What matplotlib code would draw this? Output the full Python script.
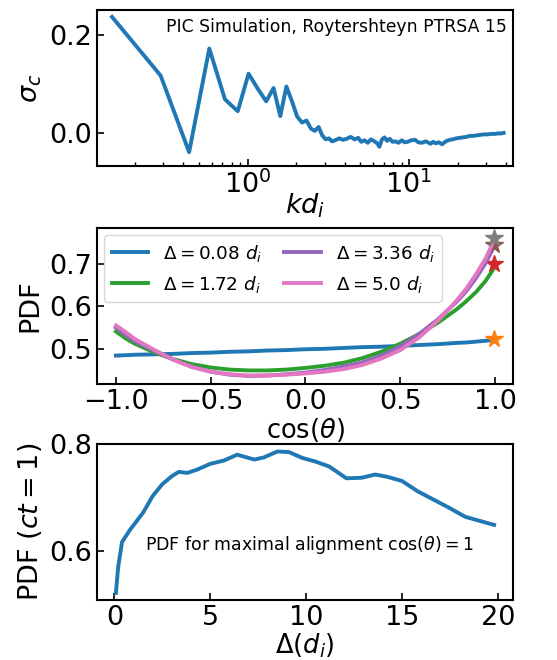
import matplotlib
matplotlib.use("Agg")
import matplotlib.pyplot as plt

# ---------------- data ----------------
# Panel 1: cross helicity sigma_c vs k d_i
kd = [0.145, 0.29, 0.435, 0.58, 0.725, 0.87, 1.015, 1.16, 1.305, 1.45, 1.595,
      1.74, 1.885, 2.03, 2.175, 2.32, 2.465, 2.61, 2.755, 2.9, 3.045, 3.19,
      3.335, 3.48, 3.7, 3.9, 4.1, 4.35, 4.6, 4.85, 5.05, 5.3, 5.55, 5.8, 6.1,
      6.35, 6.55, 6.8, 7.05, 7.3, 7.6, 7.9, 8.2, 8.6, 9.0, 9.4, 9.8, 10.3,
      10.9, 11.4, 12.0, 12.7, 13.6, 14.1, 14.6, 15.3, 16.0, 16.9, 17.8, 18.7,
      19.6, 20.5, 21.6, 22.7, 23.7, 25.0, 26.3, 27.6, 28.8, 30.5, 32.2, 34.0,
      35.5, 37.0, 38.5]
sigma_c = [0.236, 0.117, -0.038, 0.172, 0.069, 0.045, 0.121, 0.090, 0.065,
           0.092, 0.035, 0.095, 0.065, 0.034, 0.022, 0.026, 0.010, 0.005,
           0.013, -0.004, -0.012, -0.010, -0.016, -0.014, -0.010, -0.013,
           -0.011, -0.007, -0.012, -0.009, -0.017, -0.014, -0.019, -0.012,
           -0.016, -0.020, -0.027, -0.012, -0.008, -0.015, -0.011, -0.017,
           -0.016, -0.019, -0.014, -0.018, -0.017, -0.014, -0.013, -0.018,
           -0.019, -0.016, -0.021, -0.017, -0.020, -0.018, -0.022, -0.016,
           -0.013, -0.012, -0.010, -0.009, -0.008, -0.007, -0.005, -0.005,
           -0.004, -0.003, -0.002, -0.002, -0.001, -0.001, 0.000, 0.000, 0.001]

# Panel 2: PDF of cos(theta) for several separations
cos_theta = [-1.0, -0.95, -0.9, -0.8, -0.7, -0.6, -0.5, -0.4, -0.3, -0.2, -0.1,
             0.0, 0.1, 0.2, 0.3, 0.4, 0.5, 0.6, 0.7, 0.8, 0.85, 0.9, 0.95, 0.99]
pdf_008 = [0.484, 0.485, 0.486, 0.487, 0.488, 0.490, 0.491, 0.493, 0.494,
           0.496, 0.497, 0.499, 0.500, 0.502, 0.504, 0.505, 0.507, 0.509,
           0.511, 0.514, 0.515, 0.517, 0.519, 0.521]
pdf_172 = [0.541, 0.525, 0.512, 0.492, 0.476, 0.464, 0.456, 0.451, 0.449,
           0.449, 0.451, 0.455, 0.460, 0.467, 0.478, 0.493, 0.512, 0.535,
           0.562, 0.594, 0.613, 0.634, 0.660, 0.687]
pdf_336 = [0.550, 0.533, 0.518, 0.496, 0.475, 0.458, 0.446, 0.439, 0.436,
           0.437, 0.440, 0.444, 0.450, 0.458, 0.468, 0.484, 0.506, 0.535,
           0.570, 0.612, 0.637, 0.667, 0.702, 0.737]
pdf_500 = [0.555, 0.540, 0.523, 0.498, 0.475, 0.457, 0.446, 0.440, 0.437,
           0.437, 0.439, 0.442, 0.446, 0.452, 0.462, 0.477, 0.497, 0.527,
           0.567, 0.615, 0.643, 0.676, 0.713, 0.752]
star_vals = [0.523, 0.700, 0.745, 0.762]
labels = [r'$\Delta = 0.08\ d_i$', r'$\Delta = 1.72\ d_i$',
          r'$\Delta = 3.36\ d_i$', r'$\Delta = 5.0\ d_i$']

# Panel 3: PDF at cos(theta)=1 vs separation
delta = [0.08, 0.2, 0.4, 0.8, 1.5, 2.0, 2.5, 3.0, 3.36, 3.8, 4.3, 5.0, 5.7,
         6.4, 7.3, 7.8, 8.5, 9.1, 9.8, 10.5, 11.2, 12.1, 12.9, 13.6, 14.2,
         15.0, 15.8, 16.6, 17.4, 18.3, 19.1, 19.8]
pdf_max = [0.522, 0.571, 0.617, 0.639, 0.672, 0.703, 0.725, 0.740, 0.748,
           0.746, 0.752, 0.763, 0.769, 0.780, 0.771, 0.775, 0.786, 0.785,
           0.774, 0.767, 0.758, 0.736, 0.737, 0.743, 0.739, 0.731, 0.712,
           0.697, 0.682, 0.664, 0.656, 0.649]

# ---------------- figure ----------------
FS = 19.5
FSX = 18.5
fig = plt.figure(figsize=(5.57, 6.6), dpi=100)
W, H = 557, 660

def ax_at(x0, y0, x1, y1):
    return fig.add_axes([x0 / W, 1 - y1 / H, (x1 - x0) / W, (y1 - y0) / H])

ax1 = ax_at(97, 10, 513, 166)
ax2 = ax_at(97, 228, 513, 384)
ax3 = ax_at(97, 444, 513, 600)

for ax in (ax1, ax2, ax3):
    for s in ax.spines.values():
        s.set_linewidth(1.5)
    ax.tick_params(which='major', direction='in', length=5, width=1.2,
                   labelsize=FS)
    ax.tick_params(which='minor', direction='in', length=3, width=1.0)

# Panel 1
ax1.semilogx(kd, sigma_c, color='C0', lw=2.8)
ax1.set_xlim(0.117, 44)
ax1.set_ylim(-0.066, 0.25)
ax1.set_yticks([0.0, 0.2])
ax1.set_ylabel(r'$\sigma_c$', fontsize=FS)
ax1.set_xlabel(r'$kd_i$', fontsize=FS, labelpad=-6)
ax1.text(0.985, 0.95, 'PIC Simulation, Roytershteyn PTRSA 15',
         transform=ax1.transAxes, ha='right', va='top', fontsize=12.4)

# Panel 2
series = [pdf_008, pdf_172, pdf_336, pdf_500]
line_cols = ['C0', 'C2', 'C4', 'C6']
star_cols = ['C1', 'C3', 'C5', 'C7']
for s, lc, sc, sv, lab in zip(series, line_cols, star_cols, star_vals, labels):
    ax2.plot(cos_theta, s, color=lc, lw=2.8, label=lab)
    ax2.plot([0.995], [sv], marker='*', color=sc, ms=13, ls='none')
ax2.set_ylim(0.417, 0.785)
ax2.set_yticks([0.5, 0.6, 0.7])
ax2.set_xticks([-1.0, -0.5, 0.0, 0.5, 1.0])
ax2.set_ylabel('PDF', fontsize=FS)
ax2.set_xlabel(r'cos$(\theta)$', fontsize=FSX, labelpad=0.5)
ax2.legend(ncol=2, loc='upper left', fontsize=13.2, handlelength=2.0,
           columnspacing=1.2, borderaxespad=0.4, labelspacing=0.55)

# Panel 3
ax3.plot(delta, pdf_max, color='C0', lw=2.8)
ax3.set_yticks([0.6, 0.8])
ax3.set_xticks([0, 5, 10, 15, 20])
ax3.set_ylabel(r'PDF $(ct=1)$', fontsize=FS)
ax3.set_xlabel(r'$\Delta(d_i)$', fontsize=FSX, labelpad=0.5)
ax3.text(0.115, 0.35, r'PDF for maximal alignment cos$(\theta)=1$',
         transform=ax3.transAxes, ha='left', va='center', fontsize=12.5)

fig.savefig('out.png', dpi=100)
